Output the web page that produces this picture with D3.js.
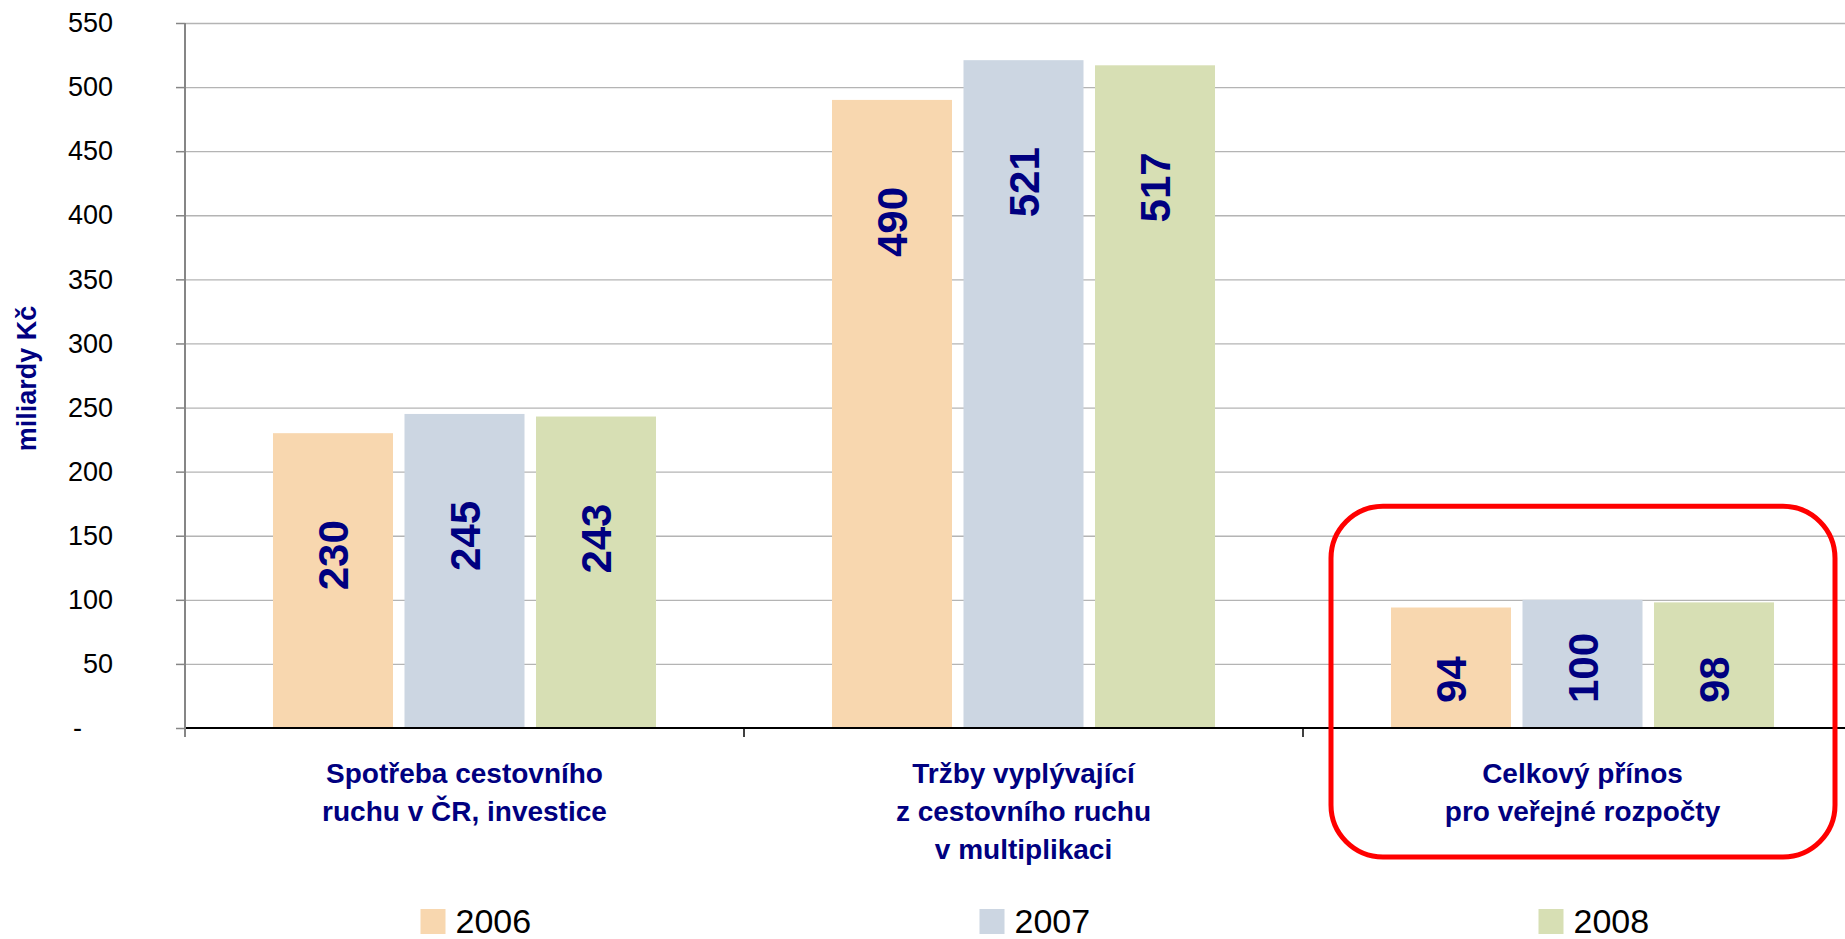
<!DOCTYPE html>
<html>
<head>
<meta charset="utf-8">
<script src="https://cdn.jsdelivr.net/npm/d3@7"></script>
<style>
	body { margin:0; background:#fff; }
	svg { display:block; font-family:"Liberation Sans", Arial, sans-serif; }
	.grid line { stroke:#b4b4b4; stroke-width:1.3; }
	.grid .domain { display:none; }
	.axis--y .domain { stroke:#868686; stroke-width:2; }
	.axis--y .tick line { stroke:#868686; stroke-width:1.5; }
	.axis--y text { font-size:27px; fill:#000; }
	.cat-label { font-size:28px; font-weight:bold; fill:#000080; }
	.value { font-size:42px; font-weight:bold; fill:#000080; }
	.legend text { font-size:34px; fill:#000; }
</style>
</head>
<body>
<svg class="chart" width="1845" height="939"></svg>
<script>
(function() {

	// data
	var categories = ['spotreba', 'trzby', 'prinos']
	var categoryLines = [
		['Spotřeba cestovního', 'ruchu v ČR, investice'],
		['Tržby vyplývající', 'z cestovního ruchu', 'v multiplikaci'],
		['Celkový přínos', 'pro veřejné rozpočty']
	]
	var years = ['2006', '2007', '2008']
	var values2006 = [230, 490, 94]
	var values2007 = [245, 521, 100]
	var values2008 = [243, 517, 98]
	var yTicks = [0, 50, 100, 150, 200, 250, 300, 350, 400, 450, 500, 550]
	var yTitle = 'miliardy Kč'
	var highlighted = 'prinos'

	var colors = ['#f8d7af', '#ccd6e2', '#d7dfb4']

	var svg = d3.select('.chart')
	var width = 1845
	var margin = { top: 23, left: 185, bottom: 211 }
	var plotBottom = 939 - margin.bottom
	var plotRight = 1862

	var series = [values2006, values2007, values2008]
	var rows = []
	categories.forEach(function(c, i) {
		years.forEach(function(y, j) {
			rows.push({ cat: c, year: y, value: series[j][i], idx: j })
		})
	})

	var scales = {}
	scales.x = d3.scaleBand().domain(categories).range([margin.left, plotRight]).padding(0)
	scales.inner = d3.scaleBand().domain(years).range([0, scales.x.bandwidth()])
		.paddingInner(0.0875).paddingOuter(0.669)
	scales.y = d3.scaleLinear().domain([0, 550]).range([plotBottom, margin.top])

	// gridlines
	svg.append('g')
		.attr('class', 'grid')
		.attr('transform', 'translate(' + margin.left + ',0)')
		.call(d3.axisRight(scales.y).tickValues(yTicks.slice(1)).tickSize(width - margin.left).tickFormat(''))

	// bars
	svg.append('g').attr('class', 'bars')
		.selectAll('rect')
		.data(rows)
		.enter()
		.append('rect')
		.attr('x', function(d) { return scales.x(d.cat) + scales.inner(d.year) })
		.attr('y', function(d) { return scales.y(d.value) })
		.attr('width', scales.inner.bandwidth())
		.attr('height', function(d) { return plotBottom - scales.y(d.value) })
		.attr('fill', function(d) { return colors[d.idx] })

	// zero line
	svg.append('line')
		.attr('x1', margin.left).attr('x2', width)
		.attr('y1', scales.y(0)).attr('y2', scales.y(0))
		.attr('stroke', '#000').attr('stroke-width', 2)

	// category ticks
	svg.append('g').selectAll('line')
		.data(categories.slice(1))
		.enter()
		.append('line')
		.attr('x1', function(d) { return scales.x(d) })
		.attr('x2', function(d) { return scales.x(d) })
		.attr('y1', plotBottom).attr('y2', plotBottom + 9)
		.attr('stroke', '#000').attr('stroke-width', 1.5)

	// y axis
	var axisY = d3.axisLeft(scales.y)
		.tickValues(yTicks)
		.tickSizeInner(9).tickSizeOuter(0)
		.tickPadding(63)
		.tickFormat(function(d) { return d === 0 ? '-' : d })
	var gY = svg.append('g')
		.attr('class', 'axis axis--y')
		.attr('transform', 'translate(' + margin.left + ',0)')
		.call(axisY)
	gY.select('.domain').attr('d', 'M0,' + margin.top + 'V' + (plotBottom + 9))
	gY.selectAll('.tick text').filter(function(d) { return d === 0 }).attr('dx', -31)

	svg.append('text')
		.attr('class', 'cat-label')
		.attr('transform', 'translate(36,' + ((margin.top + plotBottom) / 2 + 3) + ')rotate(-90)')
		.attr('text-anchor', 'middle')
		.style('font-size', '27px')
		.text(yTitle)

	// value labels, anchored near the bar top but kept above the base
	svg.append('g').selectAll('text')
		.data(rows)
		.enter()
		.append('text')
		.attr('class', 'value')
		.text(function(d) { return d.value })
		.each(function(d) {
			var len = this.getComputedTextLength()
			var top = scales.y(d.value) + 87
			if (top + len > plotBottom - 25) top = plotBottom - 25 - len
			var cx = scales.x(d.cat) + scales.inner(d.year) + scales.inner.bandwidth() / 2
			d3.select(this)
				.attr('text-anchor', 'end')
				.attr('dy', '0.36em')
				.attr('transform', 'translate(' + cx + ',' + top + ')rotate(-90)')
		})

	// category labels
	var catG = svg.append('g').selectAll('text')
		.data(categories)
		.enter()
		.append('text')
		.attr('class', 'cat-label')
		.attr('text-anchor', 'middle')
		.attr('x', function(d) { return scales.x(d) + scales.x.bandwidth() / 2 })
		.attr('y', plotBottom + 55)
	catG.selectAll('tspan')
		.data(function(d, i) { return categoryLines[i] })
		.enter()
		.append('tspan')
		.attr('x', function() { var p = this.parentNode; return d3.select(p).attr('x') })
		.attr('dy', function(d, i) { return i === 0 ? 0 : 38 })
		.text(function(d) { return d })

	// highlight box round the last category
	var hx = scales.x(highlighted)
	svg.append('rect')
		.attr('x', hx + 28)
		.attr('y', scales.y(173))
		.attr('width', scales.x.bandwidth() - 55)
		.attr('height', plotBottom + 129 - scales.y(173))
		.attr('rx', 52).attr('ry', 52)
		.attr('fill', 'none')
		.attr('stroke', '#ff0000')
		.attr('stroke-width', 5)

	// legend
	var legend = svg.append('g').attr('class', 'legend')
		.selectAll('g')
		.data(years)
		.enter()
		.append('g')
		.attr('transform', function(d, i) {
			return 'translate(' + (scales.x(categories[i]) + scales.x.bandwidth() / 2 - 44) + ',909)'
		})
	legend.append('rect')
		.attr('width', 25).attr('height', 25)
		.attr('fill', function(d, i) { return colors[i] })
	legend.append('text')
		.attr('x', 35).attr('y', 24)
		.text(function(d) { return d })

})()
</script>
</body>
</html>
